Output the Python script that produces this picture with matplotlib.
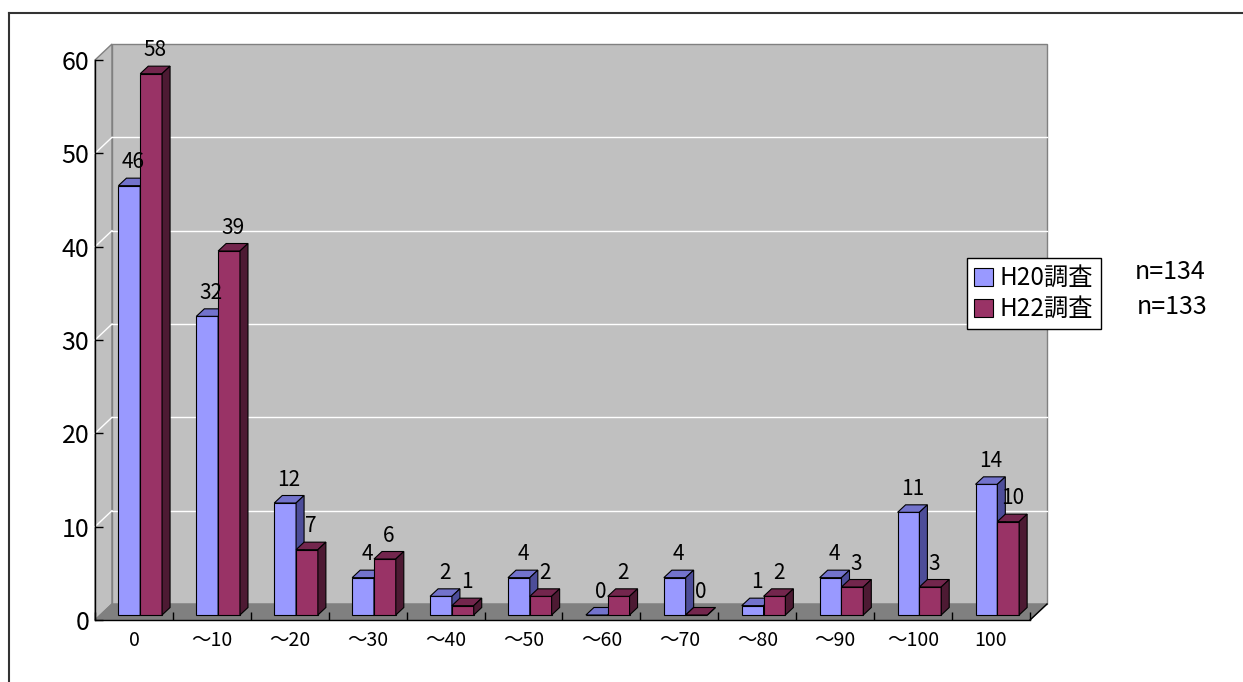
import matplotlib
matplotlib.use("Agg")
import matplotlib.pyplot as plt
from matplotlib.patches import Polygon, Patch
from matplotlib.lines import Line2D

plt.rcParams['font.family'] = ['Noto Sans CJK JP', 'DejaVu Sans']

# ---- data ----
categories = ["0", "～10", "～20", "～30", "～40", "～50", "～60",
              "～70", "～80", "～90", "～100", "100"]
h20 = [46, 32, 12, 4, 2, 4, 0, 4, 1, 4, 11, 14]
h22 = [58, 39, 7, 6, 1, 2, 2, 0, 2, 3, 3, 10]
series_names = ["H20調査", "H22調査"]
sample_sizes = ["n=134", "n=133"]
y_ticks = [0, 10, 20, 30, 40, 50, 60]

# ---- styling ----
front_colors = ["#9999FF", "#993366"]
top_colors = ["#7373CC", "#73264D"]
side_colors = ["#4D4D99", "#4D1A33"]
wall_color = "#C0C0C0"
floor_color = "#808080"

W, H = 1243, 682
fig = plt.figure(figsize=(W / 100, H / 100), dpi=100)
ax_w_px, ax_h_px = 935, 560
ax = fig.add_axes([95 / W, 62 / H, ax_w_px / W, ax_h_px / H])

n = len(categories)
ymax = y_ticks[-1]
ax.set_xlim(0, n)
ax.set_ylim(0, ymax)
ax.patch.set_visible(False)

# pixel -> data unit helpers
ux = n / ax_w_px
uy = ymax / ax_h_px

# depth of the chart box
wdx, wdy = 17 * ux, 16 * uy
# bar placement inside the box and bar depth
fx, fy = 5.5 * ux, 5 * uy
bdx, bdy = 8 * ux, 7.5 * uy

# walls and floor
side_wall = Polygon([(0, 0), (wdx, wdy), (wdx, ymax + wdy), (0, ymax)],
                    closed=True, facecolor=wall_color, edgecolor="#808080",
                    lw=1, clip_on=False, zorder=0)
back_wall = Polygon([(wdx, wdy), (n + wdx, wdy), (n + wdx, ymax + wdy), (wdx, ymax + wdy)],
                    closed=True, facecolor=wall_color, edgecolor="#808080",
                    lw=1, clip_on=False, zorder=0)
floor = Polygon([(0, 0), (n, 0), (n + wdx, wdy), (wdx, wdy)],
                closed=True, facecolor=floor_color, edgecolor="#808080",
                lw=1, clip_on=False, zorder=0.5)
for p in (side_wall, back_wall, floor):
    ax.add_patch(p)
ax.plot([n, n + wdx], [0, wdy], color="black", lw=1, clip_on=False, zorder=1)

# gridlines on the back and side walls
for v in y_ticks[1:-1]:
    ax.plot([wdx, n + wdx], [v + wdy, v + wdy], color="white", lw=1,
            clip_on=False, zorder=0.8)
    ax.plot([0, wdx], [v, v + wdy], color="white", lw=1,
            clip_on=False, zorder=0.8)

# 3D-looking bars
bw = 0.28
shift = 0.01
for j, vals in enumerate([h20, h22]):
    z = 3 + j
    xs = [i + 0.5 + shift - bw + j * bw + fx for i in range(n)]
    ax.bar(xs, vals, width=bw, bottom=fy, align="edge",
           color=front_colors[j], edgecolor="black", lw=0.8, zorder=z)
    for x0, v in zip(xs, vals):
        top = Polygon([(x0, v + fy), (x0 + bw, v + fy),
                       (x0 + bw + bdx, v + fy + bdy), (x0 + bdx, v + fy + bdy)],
                      closed=True, facecolor=top_colors[j], edgecolor="black",
                      lw=0.8, zorder=z, clip_on=False)
        side = Polygon([(x0 + bw, fy), (x0 + bw + bdx, fy + bdy),
                        (x0 + bw + bdx, v + fy + bdy), (x0 + bw, v + fy)],
                       closed=True, facecolor=side_colors[j], edgecolor="black",
                       lw=0.8, zorder=z, clip_on=False)
        ax.add_patch(top)
        ax.add_patch(side)
        ax.annotate(str(v), xy=(x0 + bw / 2 + bdx / 2, v + fy + bdy / 2),
                    xytext=(0, 14), textcoords="offset points",
                    ha="center", va="center", fontsize=15, zorder=10,
                    annotation_clip=False)

# axes
for s in ("top", "right"):
    ax.spines[s].set_visible(False)
for s in ("left", "bottom"):
    ax.spines[s].set_color("black")
    ax.spines[s].set_linewidth(1)
    ax.spines[s].set_zorder(2)

ax.set_yticks(y_ticks)
ax.set_yticklabels([str(t) for t in y_ticks], fontsize=18)
ax.tick_params(axis="y", direction="in", length=6, width=1, pad=4)

ax.set_xticks(range(n + 1))
ax.set_xticklabels([])
ax.set_xticks([i + 0.5 for i in range(n)], minor=True)
ax.set_xticklabels(categories, minor=True, fontsize=14)
ax.tick_params(axis="x", which="major", direction="in", length=6, width=1)
ax.tick_params(axis="x", which="minor", length=0, pad=7)

# legend
handles = [Patch(facecolor=c, edgecolor="black", lw=0.8) for c in front_colors]
leg = fig.legend(handles, series_names, loc="upper left",
                 bbox_to_anchor=(967 / W, 1 - 258 / H), fontsize=17.5,
                 frameon=True, fancybox=False, edgecolor="black", framealpha=1,
                 handlelength=0.75, handleheight=0.75, handletextpad=0.3,
                 borderpad=0.3, labelspacing=0.2, borderaxespad=0)
leg.get_frame().set_linewidth(1.0)

fig.text(1170 / W, 1 - 272 / H, sample_sizes[0], ha="center", va="center", fontsize=18)
fig.text(1172 / W, 1 - 307 / H, sample_sizes[1], ha="center", va="center", fontsize=18)

# outer frame (top and left edges)
fig.add_artist(Line2D([9 / W, 1], [1 - 13 / H, 1 - 13 / H], color="#333333", lw=1.5))
fig.add_artist(Line2D([9 / W, 9 / W], [0, 1 - 13 / H], color="#333333", lw=1.5))

fig.savefig("out.png", dpi=100)
